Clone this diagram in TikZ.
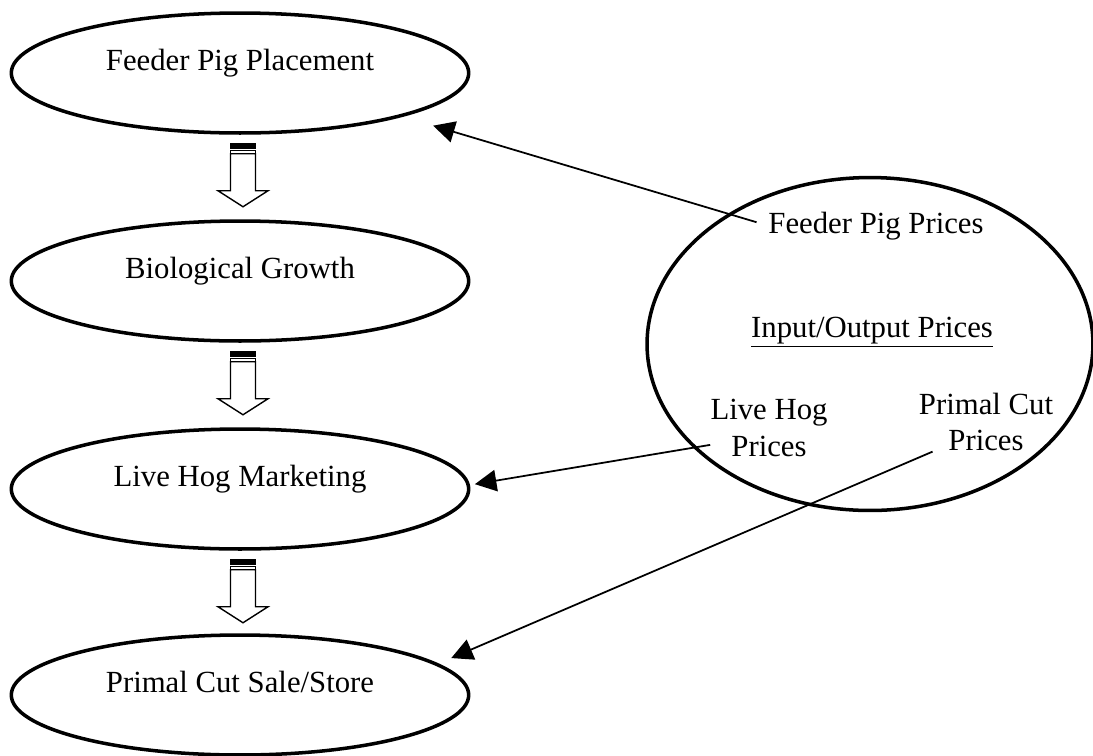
\documentclass[tikz,border=0pt]{standalone}
\usepackage{fontspec}
\setmainfont{Liberation Serif}
\usetikzlibrary{shapes.geometric,arrows.meta,calc}

\begin{document}
\begin{tikzpicture}[x=0.02cm,y=-0.02cm,
% common options for the stage ellipses:
stage/.style = {ellipse, draw, line width=2pt, minimum width=9.15cm,
            minimum height=2.4cm, inner sep=0, text height=0.45cm,
            text depth=0.57cm, font=\fontsize{17.5}{21}\selectfont},
% common options for the price labels:
price/.style = {align=center, inner sep=0, font=\fontsize{17.5}{21}\selectfont},
% common options for the arrows:
pricearrow/.style = {line width=1pt, -{Triangle[length=4.3mm,width=4.3mm]}},
blockarrow/.style = {line width=0.8pt, fill=white}]
\useasboundingbox (0,0) rectangle (1093,755);
\node[stage] (place) at (240,73) {Feeder Pig Placement};
\node[stage] (growth) at (240,281) {Biological Growth};
\node[stage] (market) at (240,489) {Live Hog Marketing};
\node[stage] (cut) at (240,695) {Primal Cut Sale/Store};
\node[ellipse, draw, line width=2pt, minimum width=8.92cm,
      minimum height=6.66cm] (prices) at (870,344) {};
\node[price,anchor=base] (fpp) at (876,233) {Feeder Pig Prices};
\node[price,anchor=base] (io) at (872,337) {\underline{Input/Output Prices}};
\node[price] (lhp) at (769,428) {Live Hog\\Prices};
\node[price] (pcp) at (986,422) {Primal Cut\\Prices};
\foreach \a in {place,growth,market}{
  \filldraw[blockarrow,fill=black] ($(\a.south)+(-9.5,9)$) rectangle ++(25,4.5);
  \draw[blockarrow] ($(\a.south)+(-9.5,15.5)$) rectangle ++(25,3.5);
  \draw[blockarrow] ($(\a.south)+(-9.5,19)$) -- ++(0,37) -- ++(-12.5,0)
    -- ++(25,16) -- ++(25,-16) -- ++(-12.5,0) -- ++(0,-37) -- cycle;
}
\draw[pricearrow, shorten <=0.24cm, shorten >=0.63cm] (fpp.west) -- (place.-15.5);
\draw[pricearrow, shorten >=0.1cm] (lhp.196) -- (market.1.5);
\draw[pricearrow, shorten >=0.28cm] (pcp.209) -- (cut.9.25);
\end{tikzpicture}
\end{document}
